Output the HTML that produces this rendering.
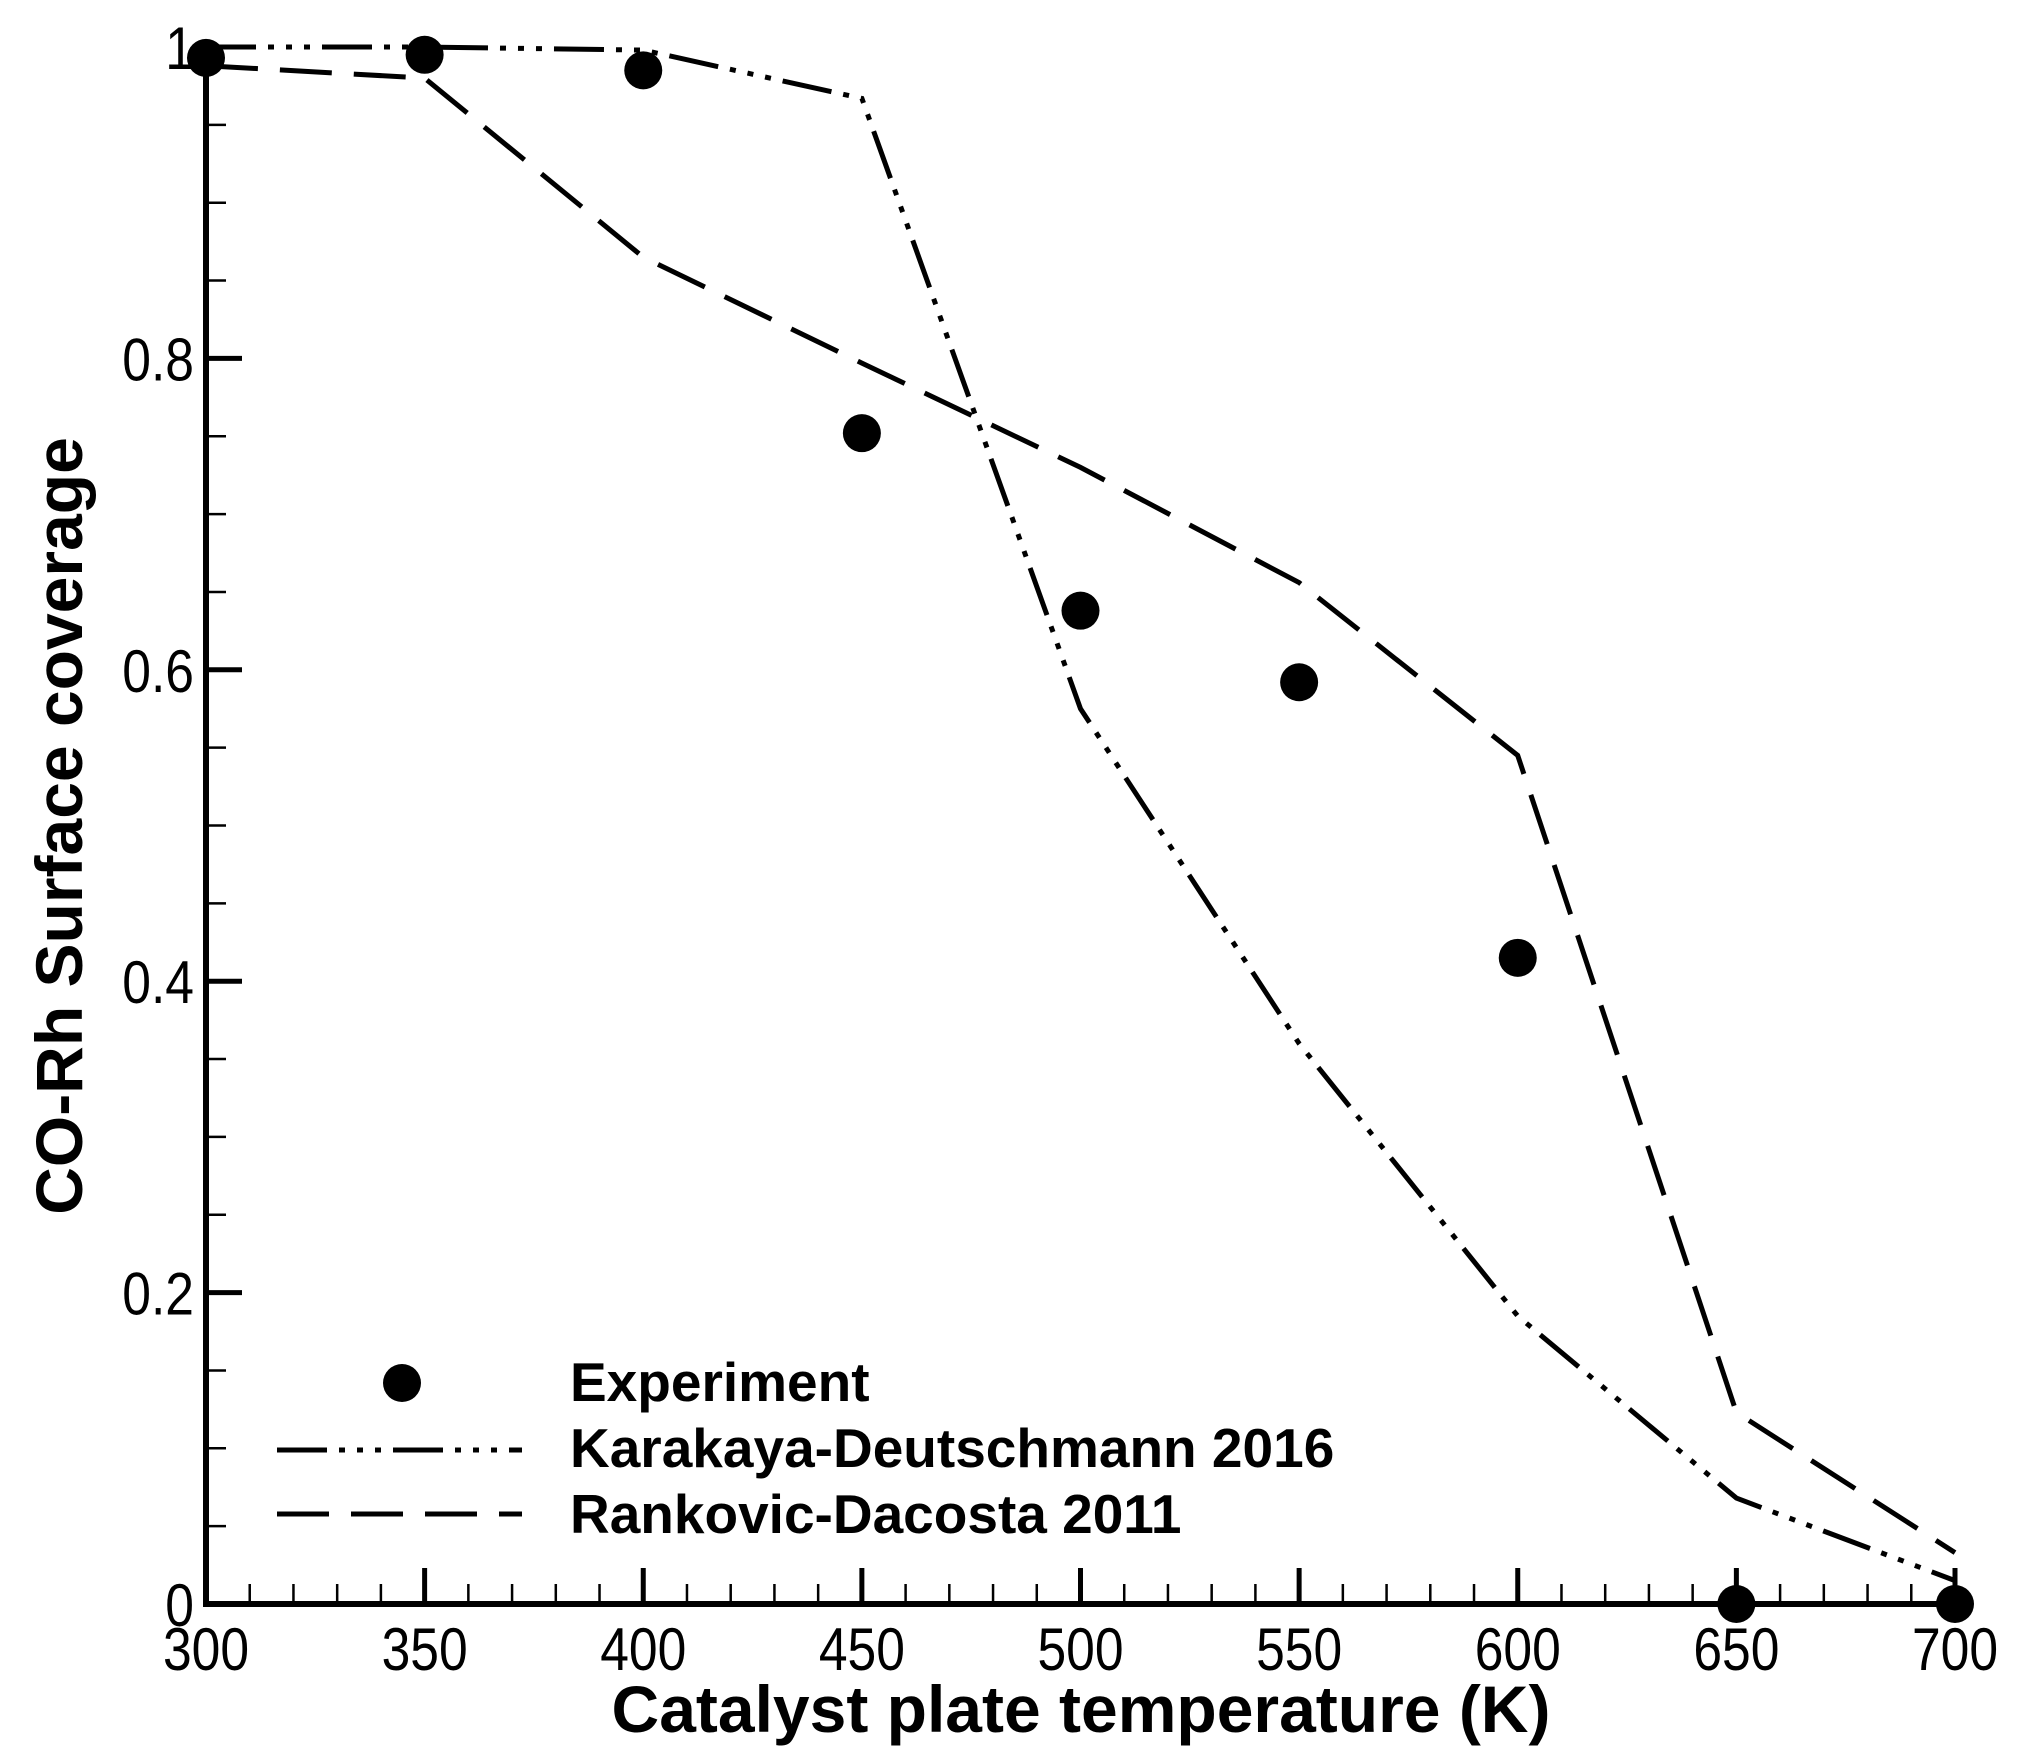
<!DOCTYPE html>
<html><head><meta charset="utf-8"><style>
html,body{margin:0;padding:0;background:#fff}
svg{display:block;font-family:"Liberation Sans",Arial,sans-serif}
</style></head><body>
<svg id="s" width="2019" height="1756" xmlns="http://www.w3.org/2000/svg">
<g id="g"></g>
</svg>
<script>
const X=t=>206+(t-300)*4.3725, Y=v=>1604-v*1557;
let h='';
h+=`<line x1="${X(300)}" y1="1604" x2="${X(700)+3}" y2="1604" stroke="#000" stroke-width="6"/>`;
h+=`<line x1="${X(300)}" y1="1607" x2="${X(300)}" y2="${Y(1)}" stroke="#000" stroke-width="6"/>`;
for(let t=300;t<=700;t+=10){const maj=t%50==0;h+=`<line x1="${X(t)}" y1="1604" x2="${X(t)}" y2="${1604-(maj?36:20)}" stroke="#000" stroke-width="${maj?5:2.5}"/>`;}
for(let i=0;i<=20;i++){const v=i*0.05;const maj=i%4==0;h+=`<line x1="${X(300)}" y1="${Y(v)}" x2="${X(300)+(maj?36:20)}" y2="${Y(v)}" stroke="#000" stroke-width="${maj?5:2.5}"/>`;}
const tx=(x,y,s,anc)=>`<text transform="translate(${x},${y}) scale(0.86,1)" font-size="60" text-anchor="${anc}">${s}</text>`;
for(let t=300;t<=700;t+=50)h+=tx(X(t),1670,t,'middle');
[[0,'0'],[0.2,'0.2'],[0.4,'0.4'],[0.6,'0.6'],[0.8,'0.8'],[1,'1']].forEach(([v,l])=>h+=tx(X(300)-12,Y(v)+22,l,'end'));
h+=`<text x="1081" y="1732" font-size="66" font-weight="bold" text-anchor="middle">Catalyst plate temperature (K)</text>`;
h+=`<text transform="translate(82,826) rotate(-90)" font-size="66" font-weight="bold" text-anchor="middle">CO-Rh Surface coverage</text>`;
const T=[300,350,400,450,500,550,600,650,700];
const K=[1.0,1.0,0.998,0.967,0.575,0.36,0.185,0.068,0.015];
const R=[0.988,0.98,0.865,0.797,0.73,0.656,0.545,0.123,0.033];
const E=[0.993,0.995,0.985,0.752,0.638,0.592,0.415,0,0];
const pts=a=>a.map((v,i)=>X(T[i]).toFixed(1)+','+Y(v).toFixed(1)).join(' ');
h+=`<polyline points="${pts(K)}" fill="none" stroke="#000" stroke-width="5" stroke-dasharray="50 12 6 12 6 12 6 12"/>`;
h+=`<polyline points="${pts(R)}" fill="none" stroke="#000" stroke-width="5" stroke-dasharray="52 22"/>`;
E.forEach((v,i)=>h+=`<circle cx="${X(T[i])}" cy="${Y(v)}" r="19" fill="#000"/>`);
h+=`<circle cx="402" cy="1383" r="19" fill="#000"/>`;
h+=`<line x1="277" y1="1450" x2="522" y2="1450" stroke="#000" stroke-width="5" stroke-dasharray="50 12 6 12 6 12 6 12"/>`;
h+=`<line x1="277" y1="1514" x2="522" y2="1514" stroke="#000" stroke-width="5" stroke-dasharray="52 22"/>`;
[['Experiment',1401],['Karakaya-Deutschmann 2016',1467],['Rankovic-Dacosta 2011',1533]].forEach(([s,y])=>h+=`<text x="570" y="${y}" font-size="55" font-weight="bold">${s}</text>`);
document.getElementById('g').innerHTML=h;
</script>
</body></html>
